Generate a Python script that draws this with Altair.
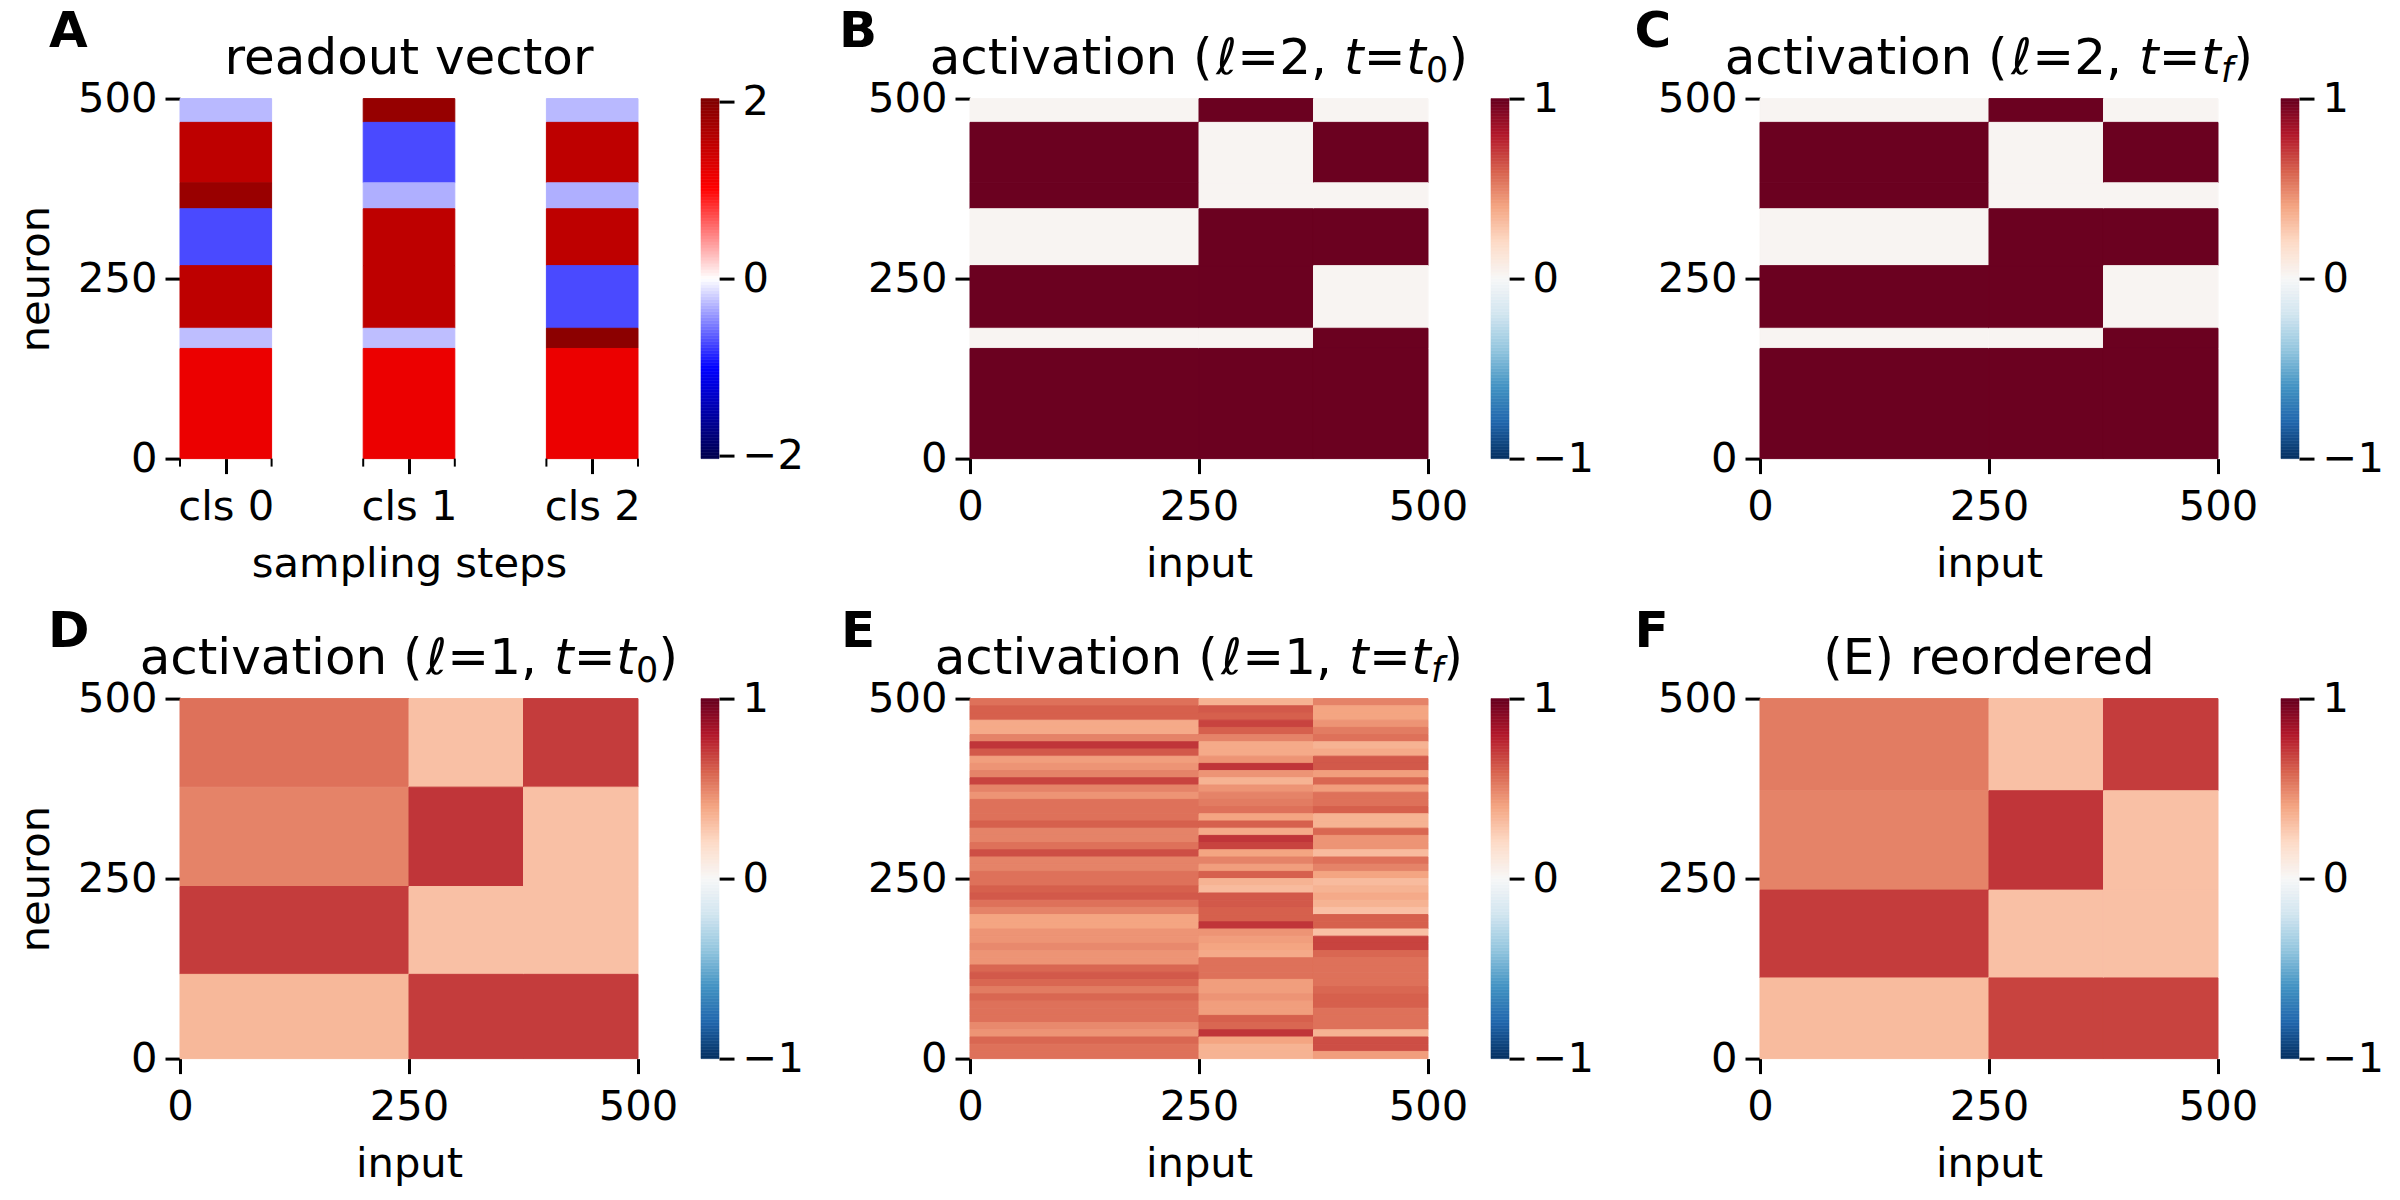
import altair as alt

# ---- values ----
L2_ROWS = [500, 467, 383, 347, 268, 181, 153, 0]
L2_COLS = [0, 250, 375, 500]
READOUT_CLS0 = [-0.28, 1.53, 1.83, -0.72, 1.53, -0.26, 1.17]
READOUT_CLS1 = [1.85, -0.72, -0.32, 1.53, 1.53, -0.26, 1.17]
READOUT_CLS2 = [-0.28, 1.53, -0.32, 1.53, -0.72, 1.93, 1.17]
READOUT_SPANS = [(0, 1), (2, 3), (4, 5)]
CLS_LABELS = ["cls 0", "cls 1", "cls 2"]

L2_COL0 = [0.02, 0.99, 0.99, 0.02, 0.99, 0.02, 0.99]
L2_COL1 = [0.99, 0.02, 0.02, 0.99, 0.99, 0.02, 0.99]
L2_COL2 = [0.02, 0.99, 0.02, 0.99, 0.02, 0.99, 0.99]

D_ROWS = [500, 377, 239, 117, 0]
D_COL0 = [0.55, 0.50, 0.70, 0.33]
D_COL1 = [0.30, 0.72, 0.30, 0.70]
D_COL2 = [0.70, 0.30, 0.30, 0.70]

F_ROWS = [500, 372, 234, 112, 0]
F_COL0 = [0.52, 0.50, 0.70, 0.32]
F_COL1 = [0.30, 0.72, 0.30, 0.68]
F_COL2 = [0.70, 0.30, 0.30, 0.68]

# panel E: mean level of each 10-neuron band, top to bottom
E_COL0 = [.55, .60, .60, .38, .38, .50, .72, .62, .42, .45, .50, .68, .50, .45, .55, .55, .55, .60, .50, .50, .55, .65, .50, .50, .55,
          .55, .60, .62, .55, .50, .40, .40, .45, .45, .48, .45, .45, .58, .62, .58, .52, .58, .55, .55, .55, .48, .45, .58, .55, .55]
E_COL1 = [.35, .62, .60, .68, .60, .50, .38, .38, .45, .72, .45, .35, .45, .50, .52, .55, .40, .60, .38, .72, .68, .40, .50, .42, .60,
          .35, .32, .62, .62, .60, .60, .72, .45, .42, .40, .38, .55, .55, .55, .42, .42, .45, .42, .42, .60, .58, .72, .40, .35, .35]
E_COL2 = [.50, .40, .40, .45, .52, .55, .35, .38, .62, .62, .42, .58, .42, .55, .55, .60, .35, .35, .58, .45, .45, .32, .55, .50, .40,
          .32, .35, .38, .35, .30, .60, .60, .30, .68, .68, .58, .55, .55, .55, .55, .58, .60, .60, .55, .55, .55, .35, .65, .65, .42]

RDBU_R = ["#053061", "#2166ac", "#4393c3", "#92c5de", "#d1e5f0", "#f7f7f7",
          "#fddbc7", "#f4a582", "#d6604d", "#b2182b", "#67001f"]
RDBU_DOMAIN = [-1, -.8, -.6, -.4, -.2, 0, .2, .4, .6, .8, 1]
SEISMIC = ["#00004d", "#0000ff", "#ffffff", "#ff0000", "#7f0000"]
SEISMIC_LIMIT = 2.034
SEISMIC_DOMAIN = [-SEISMIC_LIMIT, -SEISMIC_LIMIT / 2, 0, SEISMIC_LIMIT / 2, SEISMIC_LIMIT]

# ---- layout ----
W, H = 458, 360
FONT = "DejaVu Sans"
TICK_FS, AXIS_FS, TITLE_FS = 41.67, 41.67, 50
ADV = {"a": .613, "c": .55, "t": .392, "i": .278, "v": .592, "o": .612, "n": .634, " ": .318,
       "(": .39, ")": .39, "ℓ": .417, "=": .838, "1": .636, "2": .636, "0": .636, ",": .318, "f": .352}
MATH_STRETCH = 1.012


def blocks(rows, cols, columns):
    recs = []
    for c, vals in enumerate(columns):
        for r, v in enumerate(vals):
            recs.append({"x": cols[c], "x2": cols[c + 1], "y": rows[r + 1], "y2": rows[r], "v": v})
    return recs


def bands(cols, columns):
    recs = []
    for c, vals in enumerate(columns):
        for r, v in enumerate(vals):
            recs.append({"x": cols[c], "x2": cols[c + 1], "y": 500 - 10 * (r + 1), "y2": 500 - 10 * r, "v": v})
    return recs


def text(s, px, py, size=TITLE_FS, **kw):
    return alt.Chart(alt.Data(values=[{}])).mark_text(
        align=kw.pop("align", "left"), baseline="alphabetic", fontSize=size, font=FONT, color="black", **kw
    ).encode(x=alt.value(px), y=alt.value(py), text=alt.value(s))


def part_width(p):
    scale = p[2] if len(p) > 2 else 1
    return sum(ADV.get(ch, .6) for ch in p[0]) * TITLE_FS * scale * MATH_STRETCH


def title_layers(letter, parts, letter_x):
    layers = [text(letter, letter_x, -52, size=50, fontWeight="bold")]
    if len(parts) == 1:
        layers.append(text(parts[0][0], W / 2, -25, align="center"))
        return layers
    x = W / 2 - sum(part_width(p) for p in parts) / 2
    for p in parts:
        scale = p[2] if len(p) > 2 else 1
        dy = 8 if scale < 1 else 0
        layers.append(text(p[0], x, -25 + dy, size=TITLE_FS * scale, fontStyle=p[1]))
        x += part_width(p)
    return layers


def axis_common(**kw):
    return alt.Axis(domain=False, grid=False, ticks=True, tickColor="black", tickWidth=3, tickSize=15,
                    labelFont=FONT, labelFontSize=TICK_FS, labelColor="black", labelOverlap=False,
                    labelBound=False, labelFlush=False, titleFont=FONT, titleFontSize=AXIS_FS,
                    titleFontWeight="normal", titleColor="black", **kw)


def heat(records, cdomain, crange, xaxis, xdomain, ytitle, extra_layers):
    cscale = alt.Scale(domain=cdomain, range=crange, interpolate="rgb", clamp=True)
    base = alt.Chart(alt.Data(values=records)).mark_rect(strokeWidth=1).encode(
        x=alt.X("x:Q", axis=xaxis, scale=alt.Scale(domain=xdomain, nice=False, zero=False)),
        x2="x2:Q",
        y=alt.Y("y:Q", scale=alt.Scale(domain=[0, 500], nice=False),
                axis=axis_common(values=[0, 250, 500], title=ytitle, labelPadding=8, titlePadding=20, format="d")),
        y2="y2:Q",
        color=alt.Color("v:Q", legend=None, scale=cscale),
        stroke=alt.Color("v:Q", legend=None, scale=cscale),
    )
    return alt.layer(base, *extra_layers).properties(width=W, height=H)


def colorbar(limit, ticks, cdomain, crange):
    n = 120
    recs = [{"y": -limit + 2 * limit * i / n, "y2": -limit + 2 * limit * (i + 1) / n,
             "v": -limit + 2 * limit * (i + .5) / n} for i in range(n)]
    cscale = alt.Scale(domain=cdomain, range=crange, interpolate="rgb")
    return alt.Chart(alt.Data(values=recs)).mark_rect(strokeWidth=0.6).encode(
        x=alt.value(0), x2=alt.value(18),
        y=alt.Y("y:Q", scale=alt.Scale(domain=[-limit, limit], nice=False),
                axis=axis_common(values=ticks, orient="right", title=None, labelPadding=8,
                                 labelExpr="datum.value < 0 ? '\u2212' + abs(datum.value) : '' + datum.value")),
        y2="y2:Q",
        color=alt.Color("v:Q", legend=None, scale=cscale),
        stroke=alt.Color("v:Q", legend=None, scale=cscale),
    ).properties(width=18, height=H)


def spacer(w):
    return alt.Chart(alt.Data(values=[{}])).mark_rect(opacity=0).encode(x=alt.value(0)).properties(width=w, height=H)


def input_axis():
    return axis_common(values=[0, 250, 500], title="input", labelPadding=13, titlePadding=15, format="d")


# ---- panel A ----
readout_recs = []
for span, vals in zip(READOUT_SPANS, [READOUT_CLS0, READOUT_CLS1, READOUT_CLS2]):
    for r, v in enumerate(vals):
        readout_recs.append({"x": span[0], "x2": span[1], "y": L2_ROWS[r + 1], "y2": L2_ROWS[r], "v": v})
centres = [(a + b) / 2 for a, b in READOUT_SPANS]
edges = [e for span in READOUT_SPANS for e in span]
label_expr = "{" + ",".join(f"'{c}':'{l}'" for c, l in zip(centres, CLS_LABELS)) + "}[datum.value]"
axis_a = axis_common(values=centres, title="sampling steps", labelPadding=13, titlePadding=15, labelExpr=label_expr)
short_ticks = alt.Chart(alt.Data(values=[{"e": e} for e in edges])).mark_rule(color="black", strokeWidth=2).encode(
    x=alt.X("e:Q"), y=alt.value(H), y2=alt.value(H + 8))
panel_a = heat(readout_recs, SEISMIC_DOMAIN, SEISMIC, axis_a, [0, 5], "neuron",
               [short_ticks] + title_layers("A", [("readout vector", "normal")], -131))

# ---- panels B..F ----
T0 = ("0", "normal", .7)
TF = ("f", "italic", .7)


def act_title(layer, sub):
    return [("activation (", "normal"), ("ℓ", "italic"), (f"={layer}, ", "normal"), ("t", "italic"),
            ("=", "normal"), ("t", "italic"), sub, (")", "normal")]


l2 = blocks(L2_ROWS, L2_COLS, [L2_COL0, L2_COL1, L2_COL2])
panel_b = heat(l2, RDBU_DOMAIN, RDBU_R, input_axis(), [0, 500], None, title_layers("B", act_title(2, T0), -131))
panel_c = heat(l2, RDBU_DOMAIN, RDBU_R, input_axis(), [0, 500], None, title_layers("C", act_title(2, TF), -125.5))
panel_d = heat(blocks(D_ROWS, L2_COLS, [D_COL0, D_COL1, D_COL2]), RDBU_DOMAIN, RDBU_R, input_axis(), [0, 500], "neuron",
               title_layers("D", act_title(1, T0), -132))
panel_e = heat(bands(L2_COLS, [E_COL0, E_COL1, E_COL2]), RDBU_DOMAIN, RDBU_R, input_axis(), [0, 500], None,
               title_layers("E", act_title(1, TF), -129))
panel_f = heat(blocks(F_ROWS, L2_COLS, [F_COL0, F_COL1, F_COL2]), RDBU_DOMAIN, RDBU_R, input_axis(), [0, 500], None,
               title_layers("F", [("(E) reordered", "normal")], -125.5))

cb_seis = lambda: colorbar(SEISMIC_LIMIT, [-2, 0, 2], SEISMIC_DOMAIN, SEISMIC)
cb_rdbu = lambda: colorbar(1, [-1, 0, 1], RDBU_DOMAIN, RDBU_R)

row1 = [panel_a, spacer(63), cb_seis(), spacer(251), panel_b, spacer(63), cb_rdbu(), spacer(251), panel_c, spacer(63), cb_rdbu()]
row2 = [panel_d, spacer(63), cb_rdbu(), spacer(251), panel_e, spacer(63), cb_rdbu(), spacer(251), panel_f, spacer(63), cb_rdbu()]

chart = alt.concat(*row1, *row2, columns=11, spacing={"row": 240, "column": 0}, bounds="flush", align="each").resolve_scale(
    color="independent", stroke="independent"
).properties(
    padding={"left": 7, "top": -1.4, "right": 5, "bottom": 5}, background="white"
).configure_view(stroke=None)

chart.save("out.html", embed_options={"renderer": "svg", "actions": False})
